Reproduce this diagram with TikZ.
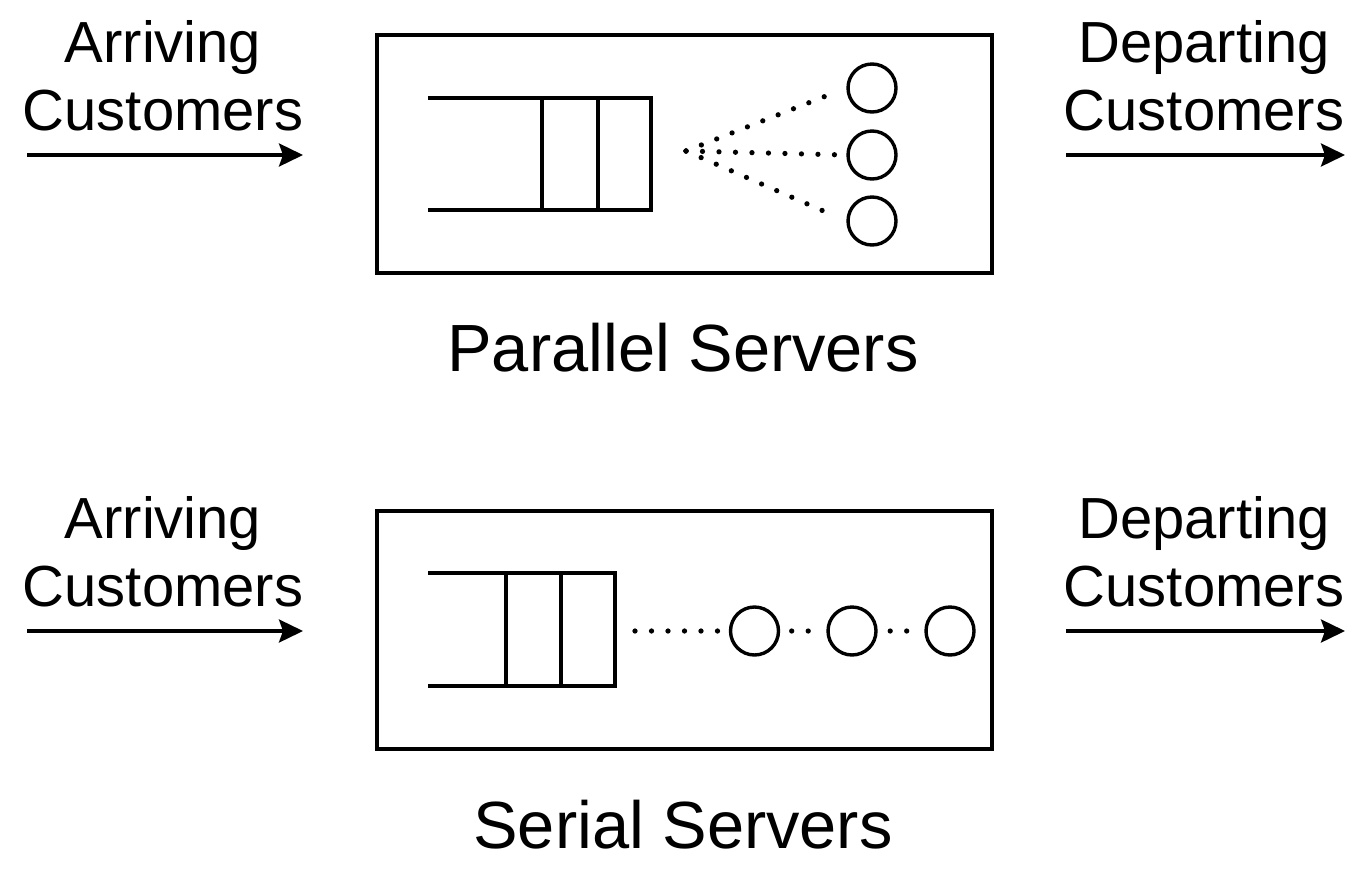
\documentclass[tikz,border=0pt]{standalone}
\usepackage{fontspec}
\setmainfont{Liberation Sans}
\usetikzlibrary{arrows.meta}

\begin{document}
\begin{tikzpicture}[x=0.02cm, y=-0.02cm, line width=0.068cm,
  server/.style={draw, circle, minimum size=0.96cm, inner sep=0pt},
  flow/.style={-{Stealth[length=0.48cm, width=0.46cm, inset=0.08cm]}},
  dots/.style={line width=0.105cm, line cap=round, dash pattern=on 0pt off 0.33cm},
  flowtext/.style={font=\fontsize{33}{39}\selectfont, align=center},
  boxtitle/.style={font=\fontsize{38}{45}\selectfont}]
\useasboundingbox (0,0) rectangle (1358,872);

% parallel servers
\draw (377,35) rectangle (992,273);
\draw (428,98) -- (651,98) -- (651,210) -- (428,210);
\draw (542,98) -- (542,210);
\draw (598,98) -- (598,210);
\coordinate (fan) at (686,151);
\node[server] (p1) at (872,88) {};
\node[server] (p2) at (872,155) {};
\node[server] (p3) at (872,221) {};
\draw[dots, shorten >=0.2cm] (fan) -- (p1.west);
\draw[dots, shorten >=0.2cm] (fan) -- (p2.west);
\draw[dots, shorten >=0.2cm] (fan) -- (p3.west);
\node[boxtitle] (ptitle) at (683,348) {Parallel Servers};

\node[flowtext] (pin) at (163,76) {Arriving\\Customers};
\coordinate (pa) at (27,155);
\coordinate (pb) at (303,155);
\draw[flow] (pa) -- (pb);
\node[flowtext] (pout) at (1204,76) {Departing\\Customers};
\coordinate (pc) at (1066,155);
\coordinate (pd) at (1345,155);
\draw[flow] (pc) -- (pd);

% serial servers
\draw (377,511) rectangle (992,749);
\draw (428,573) -- (615,573) -- (615,686) -- (428,686);
\draw (506,573) -- (506,686);
\draw (561,573) -- (561,686);
\coordinate (qend) at (635,631);
\node[server] (s1) at (754.5,631) {};
\node[server] (s2) at (852,631) {};
\node[server] (s3) at (950,631) {};
\draw[dots, shorten >=0.21cm] (qend) -- (s1.west);
\draw[dots, shorten <=0.23cm, shorten >=0.1cm] (s1.east) -- (s2.west);
\draw[dots, shorten <=0.25cm, shorten >=0.09cm] (s2.east) -- (s3.west);
\node[boxtitle] (stitle) at (683,825) {Serial Servers};

\node[flowtext] (sin) at (163,552) {Arriving\\Customers};
\coordinate (sa) at (27,631);
\coordinate (sb) at (303,631);
\draw[flow] (sa) -- (sb);
\node[flowtext] (sout) at (1204,552) {Departing\\Customers};
\coordinate (sc) at (1066,631);
\coordinate (sd) at (1345,631);
\draw[flow] (sc) -- (sd);
\end{tikzpicture}
\end{document}
